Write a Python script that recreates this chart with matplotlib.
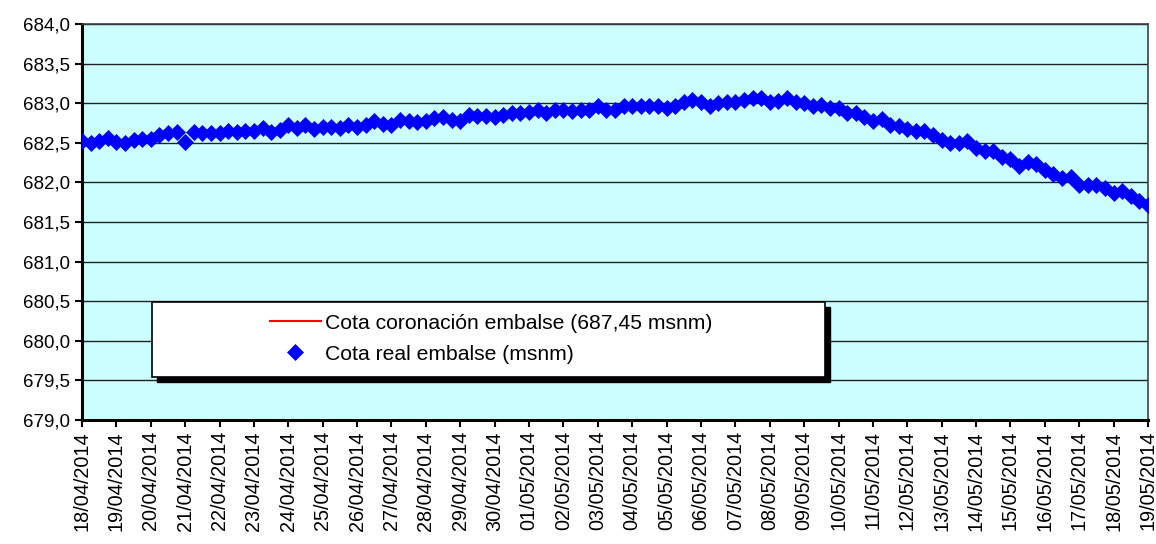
import matplotlib
matplotlib.use("Agg")
import matplotlib.pyplot as plt
import matplotlib.dates as mdates
from matplotlib.patches import Rectangle
from matplotlib.ticker import FuncFormatter, MultipleLocator
import pandas as pd

plt.rcParams['font.family'] = ['Liberation Sans', 'DejaVu Sans']

# reservoir level readings, every 6 hours from 18/04/2014 00:00
start_date = "2014-04-18"
step = "6h"
cota_real = [
    682.52, 682.50, 682.52, 682.56, 682.51, 682.50, 682.54, 682.55, 682.55, 682.60,
    682.62, 682.64, 682.51, 682.64, 682.62, 682.62, 682.62, 682.65, 682.64, 682.65,
    682.65, 682.69, 682.64, 682.66, 682.72, 682.69, 682.73, 682.68, 682.70, 682.70,
    682.69, 682.72, 682.70, 682.72, 682.77, 682.74, 682.72, 682.79, 682.78, 682.76,
    682.77, 682.81, 682.83, 682.79, 682.78, 682.85, 682.84, 682.84, 682.82, 682.85,
    682.88, 682.87, 682.89, 682.92, 682.87, 682.91, 682.91, 682.90, 682.92, 682.91,
    682.96, 682.92, 682.92, 682.97, 682.96, 682.96, 682.97, 682.96, 682.94, 682.97,
    683.02, 683.04, 683.01, 682.97, 683.00, 683.01, 683.02, 683.04, 683.06, 683.06,
    683.01, 683.03, 683.07, 683.01, 683.00, 682.96, 682.98, 682.94, 682.94, 682.88,
    682.87, 682.82, 682.77, 682.80, 682.73, 682.71, 682.67, 682.65, 682.65, 682.60,
    682.54, 682.50, 682.50, 682.52, 682.44, 682.40, 682.39, 682.32, 682.30, 682.21,
    682.26, 682.23, 682.16, 682.10, 682.06, 682.07, 681.97, 681.97, 681.97, 681.93,
    681.87, 681.89, 681.83, 681.76, 681.72,
]
cota_coronacion = 687.45

label_coronacion = "Cota coronación embalse (687,45 msnm)"
label_real = "Cota real embalse (msnm)"

y_min, y_max, y_step = 679.0, 684.0, 0.5
x_first, x_last = "2014-04-18", "2014-05-19"

fechas = pd.date_range(start_date, periods=len(cota_real), freq=step)

fig = plt.figure(figsize=(11.56, 5.44), dpi=100)
ax = fig.add_axes([0.0709, 0.228, 0.9222, 0.7279])
ax.set_facecolor("#CCFFFF")

ax.plot(fechas, [cota_coronacion] * len(fechas), color="red", lw=1.5,
        label=label_coronacion, zorder=3)
ax.plot(fechas, cota_real, linestyle="none", marker="D", ms=8.2,
        color="#0000FF", mec="#0000FF", mew=0.5, label=label_real, zorder=4)

ax.set_ylim(y_min, y_max)
ax.set_xlim(pd.Timestamp(x_first), pd.Timestamp(x_last))
ax.yaxis.set_major_locator(MultipleLocator(y_step))
ax.yaxis.set_major_formatter(FuncFormatter(lambda v, p: f"{v:.1f}".replace(".", ",")))
ax.xaxis.set_major_locator(mdates.DayLocator())
ax.xaxis.set_major_formatter(mdates.DateFormatter("%d/%m/%Y"))
plt.setp(ax.get_xticklabels(), rotation=90)

ax.grid(axis="y", color="#222222", lw=1)
ax.set_axisbelow(True)
ax.tick_params(axis="both", direction="out", length=5, width=1.5, color="black")
ax.tick_params(axis="y", labelsize=13.5)
ax.tick_params(axis="x", labelsize=14.3, pad=3)

for s in ("left", "bottom"):
    ax.spines[s].set_linewidth(2.2)
    ax.spines[s].set_color("black")
for s in ("top", "right"):
    ax.spines[s].set_linewidth(1.2)
    ax.spines[s].set_color("#404040")

# legend box with solid black shadow
box_x0, box_y0, box_w, box_h = 0.0657, 0.1086, 0.6313, 0.1894
shadow = Rectangle((box_x0 + 0.005, box_y0 - 0.013), box_w, box_h,
                   transform=ax.transAxes, facecolor="black", edgecolor="black",
                   zorder=5)
box = Rectangle((box_x0, box_y0), box_w, box_h, transform=ax.transAxes,
                facecolor="white", edgecolor="black", lw=1.2, zorder=6)
ax.add_patch(shadow)
ax.add_patch(box)

leg = ax.legend(loc="center left", bbox_to_anchor=(0.1764, 0.205), frameon=False,
                fontsize=15.2, handlelength=2.4, handletextpad=0.2, borderpad=0,
                borderaxespad=0, labelspacing=0.57, numpoints=1)
leg.set_zorder(7)

fig.savefig("out.png", dpi=100)
